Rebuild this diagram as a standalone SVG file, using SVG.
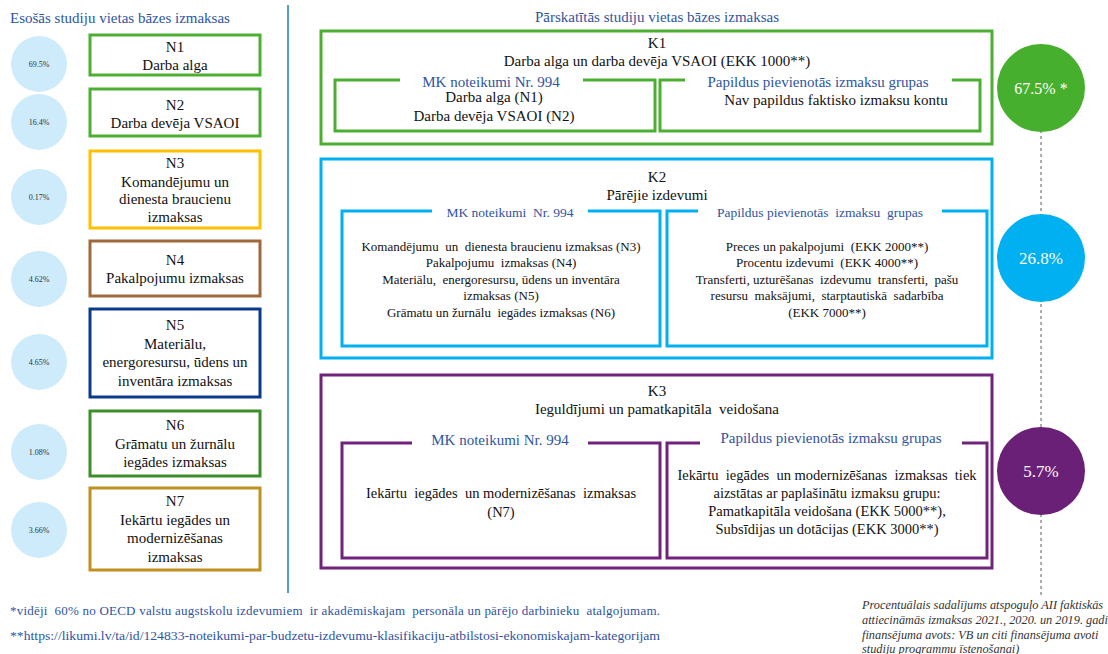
<svg xmlns="http://www.w3.org/2000/svg" width="1108" height="654" viewBox="0 0 1108 654" xml:space="preserve">
<style>
text{font-family:"Liberation Serif","Times New Roman",serif;fill:#111;white-space:pre}
.t15{font-size:15px}
.c{text-anchor:middle}
.blue{fill:#2E54A1}
.pc{font-size:8px;fill:#333;text-anchor:middle}
.lc{fill:#CDEBFA}
.nb{fill:#fff;stroke-width:3}
.k1{fill:none;stroke:#4CAF32;stroke-width:3}
.k2{fill:none;stroke:#00B0F0;stroke-width:3}
.k3{fill:none;stroke:#70237A;stroke-width:3}
.s12{font-size:13px}
.s14{font-size:14.5px}
.wt{fill:#fff;font-size:17px;text-anchor:middle}
.note{font-style:italic;font-size:12.3px;fill:#333}
.fn{font-size:13px;fill:#2E54A1}
</style>
<rect width="1108" height="654" fill="#fff"/>
<line x1="288" y1="5" x2="288" y2="593" stroke="#5B9BD5" stroke-width="2"/>
<text class="t15 blue" x="10" y="23">Esošās studiju vietas bāzes izmaksas</text>
<text class="t15 blue c" x="657" y="22">Pārskatītās studiju vietas bāzes izmaksas</text>

<g id="connectors">
<line x1="1041" y1="100" x2="1041" y2="597" stroke="#777" stroke-width="1.2" stroke-dasharray="3,3"/>
</g>

<g id="n1"><circle class="lc" cx="39" cy="64" r="28"/><text class="pc" x="39" y="67">69.5%</text>
<rect class="nb" x="90" y="35" width="170" height="40" stroke="#4CAF32"/>
<text class="t15 c" x="175" y="52">N1</text><text class="t15 c" x="175" y="70">Darba alga</text></g>
<g id="n2"><circle class="lc" cx="39" cy="122" r="28"/><text class="pc" x="39" y="125">16.4%</text>
<rect class="nb" x="90" y="89" width="170" height="47" stroke="#4CAF32"/>
<text class="t15 c" x="175" y="110">N2</text><text class="t15 c" x="175" y="128">Darba devēja VSAOI</text></g>
<g id="n3"><circle class="lc" cx="39" cy="197" r="28"/><text class="pc" x="39" y="200">0.17%</text>
<rect class="nb" x="90" y="151" width="170" height="77" stroke="#FFC000"/>
<text class="t15 c" x="175" y="168">N3</text><text class="t15 c" x="175" y="187">Komandējumu un</text><text class="t15 c" x="175" y="204">dienesta braucienu</text><text class="t15 c" x="175" y="222">izmaksas</text></g>
<g id="n4"><circle class="lc" cx="39" cy="279" r="28"/><text class="pc" x="39" y="282">4.62%</text>
<rect class="nb" x="90" y="241" width="170" height="55" stroke="#A0693A"/>
<text class="t15 c" x="175" y="265">N4</text><text class="t15 c" x="175" y="283">Pakalpojumu izmaksas</text></g>
<g id="n5"><circle class="lc" cx="39" cy="362" r="28"/><text class="pc" x="39" y="365">4.65%</text>
<rect class="nb" x="90" y="309" width="170" height="88" stroke="#0B3A8C"/>
<text class="t15 c" x="175" y="330">N5</text><text class="t15 c" x="175" y="349">Materiālu,</text><text class="t15 c" x="175" y="367">energoresursu, ūdens un</text><text class="t15 c" x="175" y="386">inventāra izmaksas</text></g>
<g id="n6"><circle class="lc" cx="39" cy="452" r="28"/><text class="pc" x="39" y="455">1.08%</text>
<rect class="nb" x="90" y="411" width="170" height="65" stroke="#3C8E2A"/>
<text class="t15 c" x="175" y="430">N6</text><text class="t15 c" x="175" y="449">Grāmatu un žurnālu</text><text class="t15 c" x="175" y="467">iegādes izmaksas</text></g>
<g id="n7"><circle class="lc" cx="39" cy="530" r="28"/><text class="pc" x="39" y="533">3.66%</text>
<rect class="nb" x="90" y="488" width="170" height="82" stroke="#C09020"/>
<text class="t15 c" x="175" y="506">N7</text><text class="t15 c" x="175" y="525">Iekārtu iegādes un</text><text class="t15 c" x="175" y="543">modernizēšanas</text><text class="t15 c" x="175" y="562">izmaksas</text></g>

<g id="k1">
<rect class="k1" x="321" y="31" width="671" height="113"/>
<text class="t15 c" x="657" y="48">K1</text>
<text class="t15 c" x="657" y="66">Darba alga un darba devēja VSAOI (EKK 1000**)</text>
<path class="k1" d="M400,80 H335 V131 H655 V80 H583"/>
<text class="t15 c blue" x="491" y="87">MK noteikumi Nr. 994</text>
<text class="t15 c" x="494" y="102">Darba alga (N1)</text>
<text class="t15 c" x="494" y="121">Darba devēja VSAOI (N2)</text>
<path class="k1" d="M685,80 H660 V131 H980 V80 H952"/>
<text class="t15 c blue" x="818" y="87">Papildus pievienotās izmaksu grupas</text>
<text class="t15 c" x="836" y="105">Nav papildus faktisko izmaksu kontu</text>
<circle cx="1041" cy="88" r="44" fill="#47AF2E"/>
<text class="wt" x="1041" y="94" style="font-size:16px">67.5% *</text>
</g>

<g id="k2">
<rect class="k2" x="321" y="159" width="671" height="199"/>
<text class="t15 c" x="657" y="182">K2</text>
<text class="t15 c" x="657" y="200">Pārējie izdevumi</text>
<path class="k2" d="M432,211 H342 V346 H660 V211 H588"/>
<text class="c blue" x="510" y="217" style="font-size:13.5px">MK noteikumi  Nr. 994</text>
<text class="s12 c" x="501" y="251">Komandējumu  un  dienesta braucienu izmaksas (N3)</text>
<text class="s12 c" x="501" y="267">Pakalpojumu  izmaksas (N4)</text>
<text class="s12 c" x="501" y="284">Materiālu,  energoresursu, ūdens un inventāra</text>
<text class="s12 c" x="501" y="300">izmaksas (N5)</text>
<text class="s12 c" x="501" y="317">Grāmatu un žurnālu  iegādes izmaksas (N6)</text>
<path class="k2" d="M698,211 H667 V346 H987 V211 H942"/>
<text class="c blue" x="820" y="217" style="font-size:13.5px">Papildus pievienotās  izmaksu  grupas</text>
<text class="s12 c" x="827" y="251">Preces un pakalpojumi  (EKK 2000**)</text>
<text class="s12 c" x="827" y="267">Procentu izdevumi  (EKK 4000**)</text>
<text class="s12 c" x="827" y="284">Transferti, uzturēšanas  izdevumu  transferti,  pašu</text>
<text class="s12 c" x="827" y="300">resursu  maksājumi,  starptautiskā  sadarbība</text>
<text class="s12 c" x="827" y="317">(EKK 7000**)</text>
<circle cx="1041" cy="258" r="44" fill="#00B0F0"/>
<text class="wt" x="1041" y="264">26.8%</text>
</g>

<g id="k3">
<rect class="k3" x="321" y="375" width="671" height="193"/>
<text class="t15 c" x="657" y="396">K3</text>
<text class="t15 c" x="657" y="414">Ieguldījumi un pamatkapitāla  veidošana</text>
<path class="k3" d="M412,443 H342 V558 H660 V443 H588"/>
<text class="t15 c blue" x="500" y="445">MK noteikumi Nr. 994</text>
<text class="s14 c" x="501" y="498">Iekārtu  iegādes  un modernizēšanas  izmaksas</text>
<text class="s14 c" x="501" y="517">(N7)</text>
<path class="k3" d="M700,443 H667 V558 H987 V443 H962"/>
<text class="t15 c blue" x="831" y="443">Papildus pievienotās izmaksu grupas</text>
<text class="s14 c" x="827" y="480">Iekārtu  iegādes  un modernizēšanas  izmaksas  tiek</text>
<text class="s14 c" x="827" y="498">aizstātas ar paplašinātu izmaksu grupu:</text>
<text class="s14 c" x="827" y="516">Pamatkapitāla veidošana (EKK 5000**),</text>
<text class="s14 c" x="827" y="534">Subsīdijas un dotācijas (EKK 3000**)</text>
<circle cx="1041" cy="471" r="44" fill="#6B2077"/>
<text class="wt" x="1041" y="477">5.7%</text>
</g>

<text class="fn" x="10" y="615" textLength="650" lengthAdjust="spacing">*vidēji  60% no OECD valstu augstskolu izdevumiem  ir akadēmiskajam  personāla un pārējo darbinieku  atalgojumam.</text>
<text class="fn" x="10" y="640" textLength="650" lengthAdjust="spacingAndGlyphs">**https://likumi.lv/ta/id/124833-noteikumi-par-budzetu-izdevumu-klasifikaciju-atbilstosi-ekonomiskajam-kategorijam</text>

<text class="note" x="862" y="609">Procentuālais sadalījums atspoguļo AII faktiskās</text>
<text class="note" x="862" y="624">attiecināmās izmaksas 2021., 2020. un 2019. gadi</text>
<text class="note" x="862" y="639">finansējuma avots: VB un citi finansējuma avoti</text>
<text class="note" x="862" y="653">studiju programmu īstenošanai)</text>
</svg>
